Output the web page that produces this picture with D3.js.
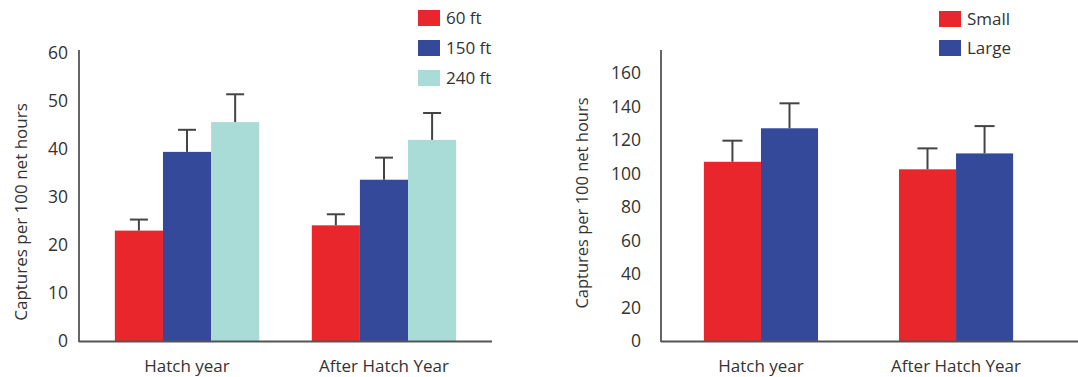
<!DOCTYPE html>
<html>
<head>
<meta charset="utf-8">
<script src="https://cdn.jsdelivr.net/npm/d3@7"></script>
<style>
  body { margin: 0; background: #fff; }
  svg text { font-family: "Open Sans", sans-serif; fill: #333; }
</style>
</head>
<body>
<div id="chart"></div>
<script>
// categories shared by both panels
var groups = ["Hatch year", "After Hatch Year"];

// left panel: distance
var distSeries = ["60 ft", "150 ft", "240 ft"];
var distValues = [[23.0, 39.4, 45.6], [24.1, 33.6, 41.9]];
var distErrors = [[2.3, 4.6, 5.8], [2.3, 4.6, 5.6]];
var distTicks = [0, 10, 20, 30, 40, 50, 60];

// right panel: size
var sizeSeries = ["Small", "Large"];
var sizeValues = [[107, 127], [102.5, 112]];
var sizeErrors = [[12.6, 14.9], [12.5, 16.3]];
var sizeTicks = [0, 20, 40, 60, 80, 100, 120, 140, 160];

var colors = ["#e8262b", "#34499a", "#aadcd7"];

var svg = d3.select("#chart").append("svg")
    .attr("width", 1078)
    .attr("height", 377);

var drawPanel = function(opt) {
    var g = svg.append("g");

    var y = d3.scaleLinear().domain(opt.domain).range([341, opt.yTop]);

    var x0 = d3.scaleBand()
        .domain(groups)
        .range([opt.left, opt.right])
        .paddingInner(opt.padIn)
        .paddingOuter(opt.padOut);

    var x1 = d3.scaleBand()
        .domain(opt.series)
        .range([0, x0.bandwidth()]);

    // bars
    var grp = g.selectAll("g.grp")
        .data(groups)
        .enter().append("g")
        .attr("class", "grp")
        .attr("transform", function(d) { return "translate(" + x0(d) + ",0)"; });

    grp.each(function(gName, gi) {
        var sel = d3.select(this);
        var rows = opt.series.map(function(s, si) {
            return { s: s, i: si, v: opt.values[gi][si], e: opt.errors[gi][si] };
        });

        sel.selectAll("rect")
            .data(rows)
            .enter().append("rect")
            .attr("x", function(d) { return x1(d.s); })
            .attr("width", x1.bandwidth())
            .attr("y", function(d) { return y(d.v); })
            .attr("height", function(d) { return y(0) - y(d.v); })
            .attr("fill", function(d) { return colors[d.i]; });

        // error bars, upward only
        sel.selectAll("line.err")
            .data(rows)
            .enter().append("line")
            .attr("class", "err")
            .attr("x1", function(d) { return x1(d.s) + x1.bandwidth() / 2; })
            .attr("x2", function(d) { return x1(d.s) + x1.bandwidth() / 2; })
            .attr("y1", function(d) { return y(d.v); })
            .attr("y2", function(d) { return y(d.v + d.e); })
            .attr("stroke", "#444")
            .attr("stroke-width", 2);

        sel.selectAll("line.cap")
            .data(rows)
            .enter().append("line")
            .attr("class", "cap")
            .attr("x1", function(d) { return x1(d.s) + x1.bandwidth() / 2 - opt.cap / 2; })
            .attr("x2", function(d) { return x1(d.s) + x1.bandwidth() / 2 + opt.cap / 2; })
            .attr("y1", function(d) { return y(d.v + d.e); })
            .attr("y2", function(d) { return y(d.v + d.e); })
            .attr("stroke", "#444")
            .attr("stroke-width", 2);
    });

    // y axis
    var yAxis = g.append("g")
        .attr("transform", "translate(" + opt.left + ",0)")
        .call(d3.axisLeft(y).tickValues(opt.ticks).tickSize(0).tickPadding(opt.tickPad));
    yAxis.select(".domain").remove();
    yAxis.selectAll("text")
        .style("font-size", "17.5px")
        .style("font-family", "'Open Sans', sans-serif")
        .attr("fill", "#333");

    g.append("line")
        .attr("x1", opt.left).attr("x2", opt.left)
        .attr("y1", 50).attr("y2", 342)
        .attr("stroke", "#555").attr("stroke-width", 1.8);

    g.append("line")
        .attr("x1", opt.left).attr("x2", opt.axisEnd)
        .attr("y1", 341.5).attr("y2", 341.5)
        .attr("stroke", "#555").attr("stroke-width", 2);

    // category labels
    g.selectAll("text.cat")
        .data(groups)
        .enter().append("text")
        .attr("class", "cat")
        .attr("x", function(d) { return x0(d) + x0.bandwidth() / 2; })
        .attr("y", 372)
        .attr("text-anchor", "middle")
        .style("font-size", "17px")
        .text(function(d) { return d; });

    // y title
    g.append("text")
        .attr("transform", "translate(" + opt.titleX + "," + opt.titleY + ") rotate(-90)")
        .attr("text-anchor", "middle")
        .attr("dy", "0.35em")
        .style("font-size", opt.titleSize + "px")
        .text("Captures per 100 net hours");

    // legend
    var leg = g.selectAll("g.leg")
        .data(opt.series)
        .enter().append("g")
        .attr("class", "leg")
        .attr("transform", function(d, i) { return "translate(" + opt.legX + "," + (opt.legY + i * opt.legStep) + ")"; });

    leg.append("rect")
        .attr("x", 0).attr("y", -8)
        .attr("width", 22).attr("height", 16)
        .attr("fill", function(d, i) { return colors[i]; });

    leg.append("text")
        .attr("x", 28).attr("y", 0)
        .attr("dy", "0.35em")
        .style("font-size", "17px")
        .text(function(d) { return d; });
};

drawPanel({
    series: distSeries, values: distValues, errors: distErrors, ticks: distTicks,
    domain: [0, 60], yTop: 53,
    left: 79, right: 492, axisEnd: 492, padIn: 0.267, padOut: 0.182,
    cap: 18, tickPad: 11,
    titleX: 21, titleY: 212, titleSize: 17,
    legX: 418, legY: 18, legStep: 30
});

drawPanel({
    series: sizeSeries, values: sizeValues, errors: sizeErrors, ticks: sizeTicks,
    domain: [0, 160], yTop: 73,
    left: 661, right: 1056, axisEnd: 1078, padIn: 0.415, padOut: 0.22,
    cap: 20, tickPad: 20,
    titleX: 582, titleY: 203, titleSize: 16.5,
    legX: 939, legY: 19, legStep: 29
});
</script>
</body>
</html>
